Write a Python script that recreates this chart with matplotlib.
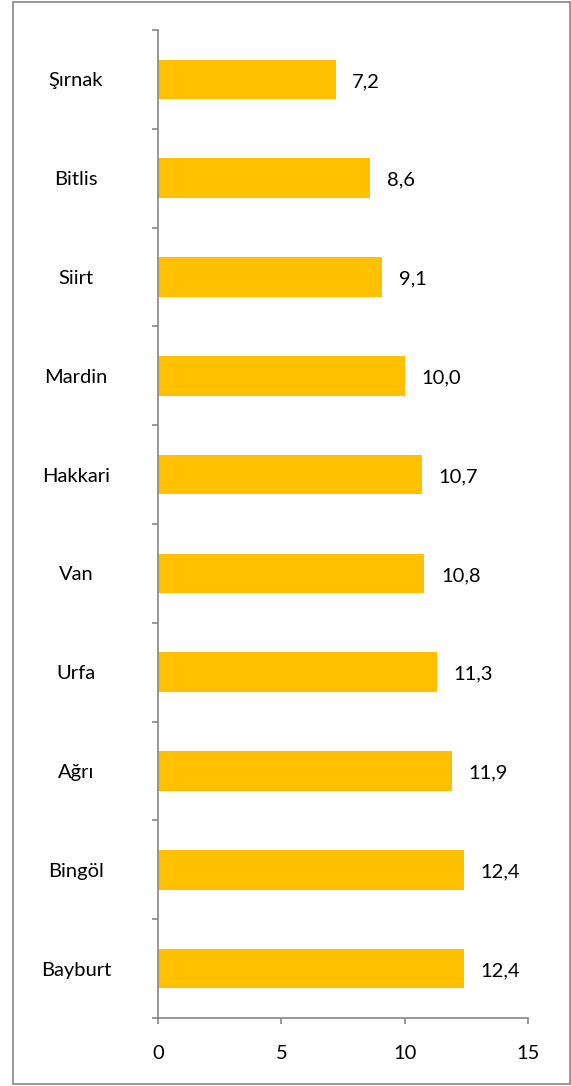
import matplotlib.pyplot as plt
import matplotlib.patches as patches
import numpy as np

cities = ['Şırnak', 'Bitlis', 'Siirt', 'Mardin', 'Hakkari', 'Van', 'Urfa', 'Ağrı', 'Bingöl', 'Bayburt']
values = [7.2, 8.6, 9.1, 10.0, 10.7, 10.8, 11.3, 11.9, 12.4, 12.4]
labels = ['7,2', '8,6', '9,1', '10,0', '10,7', '10,8', '11,3', '11,9', '12,4', '12,4']

plt.rcParams['font.family'] = ['Lato', 'DejaVu Sans']
grey = '#868686'

fig = plt.figure(figsize=(5.71, 10.86), dpi=100)
fig.patches.append(patches.Rectangle((13 / 571, 2 / 1086), 557 / 571, 1082 / 1086,
                                     transform=fig.transFigure, fill=False,
                                     edgecolor=grey, linewidth=1.2))
ax = fig.add_axes([158 / 571, 1 - 1018 / 1086, 370 / 571, 988 / 1086])

y = np.arange(len(cities))
ax.barh(y, values, height=0.4, color='#FFC000')
for yi, v, lab in zip(y, values, labels):
    ax.text(v + 0.68, yi + 0.02, lab, va='center', ha='left', fontsize=14.5)

ax.set_xlim(0, 15)
ax.set_ylim(len(cities) - 0.5, -0.5)
ax.set_xticks([0, 5, 10, 15])
ax.set_xticklabels(['0', '5', '10', '15'], fontsize=14.5)
ax.set_yticks(y)
ax.set_yticklabels(cities, fontsize=14.5)
ax.set_yticks(np.arange(-0.5, len(cities)), minor=True)
ax.tick_params(axis='y', which='major', length=0, pad=59)
for t in ax.get_yticklabels():
    t.set_horizontalalignment('center')
ax.tick_params(axis='y', which='minor', length=4.5, color=grey, width=1.2)
ax.tick_params(axis='x', length=4.5, color=grey, width=1.2, pad=15)
for s in ['top', 'right']:
    ax.spines[s].set_visible(False)
for s in ['left', 'bottom']:
    ax.spines[s].set_color(grey)
    ax.spines[s].set_linewidth(1.2)

plt.savefig('out.png', dpi=100)
